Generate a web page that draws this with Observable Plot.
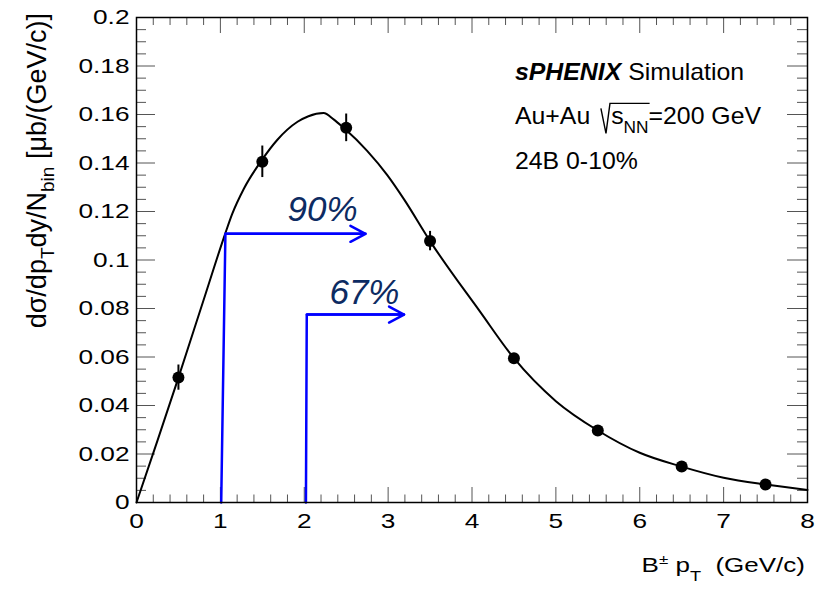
<!DOCTYPE html>
<html>
<head>
<meta charset="utf-8">
<script src="https://cdn.jsdelivr.net/npm/d3@7"></script>
<script src="https://cdn.jsdelivr.net/npm/@observablehq/plot@0.6"></script>
<style>
  body { margin: 0; background: #fff; }
  #chart { width: 825px; height: 589px; }
  #chart svg { display: block; }
</style>
</head>
<body>
<div id="chart"></div>
<script>
// Simulated B± yield per pT bin (bin centres, yields, statistical errors)
const ptBins   = [0.5, 1.5, 2.5, 3.5, 4.5, 5.5, 6.5, 7.5];
const yields   = [0.0515, 0.1405, 0.1545, 0.1078, 0.0595, 0.0297, 0.0148, 0.0074];
const yieldErr = [0.0052, 0.0065, 0.0057, 0.0040, 0.0015, 0.0010, 0.0008, 0.0005];

// Fit function, sampled along pT
const fitPt    = [0, 0.25, 0.5, 0.8, 1.06, 1.14, 1.28, 1.49, 1.68, 1.92, 2.05, 2.23, 2.35, 2.47, 2.75, 2.99, 3.19, 3.5, 4.1, 4.5, 5.0, 5.5, 6.0, 6.5, 7.0, 7.5, 8.0];
const fitYield = [0, 0.0255, 0.0515, 0.0835, 0.1111, 0.1189, 0.1294, 0.1410, 0.1496, 0.1570, 0.1593, 0.1606, 0.1580, 0.1545, 0.1450, 0.1350, 0.1250, 0.1078, 0.0785, 0.0595, 0.0418, 0.0297, 0.0205, 0.0148, 0.0102, 0.0074, 0.0052];

// pT thresholds keeping 90% and 67% of the yield
const cutLabels     = ["90%", "67%"];
const cutPtBase     = [1.01, 2.02];
const cutPtCorner   = [1.06, 2.03];
const cutLevel      = [0.1108, 0.0775];
const cutArrowEnd   = [2.73, 3.19];
const cutLabelPt    = [1.80, 2.30];
const cutLabelLevel = [0.1159, 0.0819];

// Axis ticks
const xTicks = [0, 1, 2, 3, 4, 5, 6, 7, 8];
const yTicks = [0, 0.02, 0.04, 0.06, 0.08, 0.1, 0.12, 0.14, 0.16, 0.18, 0.2];
const xMinor = d3.range(41).filter(i => i % 5 !== 0).map(i => i / 5);
const yMinor = d3.range(41).filter(i => i % 4 !== 0).map(i => i / 200);

const points = ptBins.map((x, i) => ({x, y: yields[i], e: yieldErr[i]}));
const fit = fitPt.map((x, i) => ({x, y: fitYield[i]}));
const cuts = cutLabels.map((label, i) => ({
  label, base: cutPtBase[i], corner: cutPtCorner[i], level: cutLevel[i],
  end: cutArrowEnd[i], lx: cutLabelPt[i], ly: cutLabelLevel[i]
}));
const cutPaths = cuts.flatMap(c => [
  {label: c.label, x: c.base, y: 0},
  {label: c.label, x: c.corner, y: c.level},
  {label: c.label, x: c.end, y: c.level}
]);

const W = 825, H = 589;
const M = {top: 17, right: 18, bottom: 87, left: 136};
const FW = W - M.left - M.right, FH = H - M.top - M.bottom;
const tickColor = "#555";
const blue = "#0000ff";

const chart = Plot.plot({
  width: W, height: H,
  marginTop: M.top, marginRight: M.right, marginBottom: M.bottom, marginLeft: M.left,
  style: {fontFamily: "'Liberation Sans', Arial, Helvetica, sans-serif", background: "#fff", color: "#000"},
  x: {domain: [0, 8]},
  y: {domain: [0, 0.2]},
  marks: [
    // ticks drawn inside the frame on all four sides
    Plot.tickX(xMinor, {x: d => d, insetTop: FH - 7.5, stroke: tickColor}),
    Plot.tickX(xTicks, {x: d => d, insetTop: FH - 15, stroke: tickColor}),
    Plot.tickX(xMinor, {x: d => d, insetBottom: FH - 8, stroke: tickColor}),
    Plot.tickX(xTicks, {x: d => d, insetBottom: FH - 16, stroke: tickColor}),
    Plot.tickY(yMinor, {y: d => d, insetRight: FW - 10, stroke: tickColor}),
    Plot.tickY(yTicks, {y: d => d, insetRight: FW - 19, stroke: tickColor}),
    Plot.tickY(yMinor, {y: d => d, insetLeft: FW - 10, stroke: tickColor}),
    Plot.tickY(yTicks, {y: d => d, insetLeft: FW - 20, stroke: tickColor}),
    Plot.axisX(xTicks, {tickSize: 0, tickPadding: 11, fontSize: 21, label: null, tickFormat: d3.format("~g")}),
    Plot.axisY(yTicks, {tickSize: 0, tickPadding: 7, fontSize: 21, label: null, tickFormat: d3.format("~g")}),
    // fit curve
    Plot.line(fit, {x: "x", y: "y", curve: "monotone-x", stroke: "#000", strokeWidth: 2}),
    // thresholds
    Plot.line(cutPaths, {x: "x", y: "y", z: "label", stroke: blue, strokeWidth: 2.5, strokeLinejoin: "miter"}),
    Plot.arrow(cuts, {x1: "corner", y1: "level", x2: "end", y2: "level", bend: 0,
      headLength: 10.2, headAngle: 56, stroke: blue, strokeWidth: 2.5}),
    Plot.text(cuts, {x: "lx", y: "ly", text: "label", textAnchor: "start", lineAnchor: "bottom",
      fontSize: 35, fontStyle: "italic", fill: "#0d2b62"}),
    // simulated points with error bars
    Plot.ruleX(points, {x: "x", y1: d => d.y - d.e, y2: d => d.y + d.e, stroke: "#000", strokeWidth: 2}),
    Plot.dot(points, {x: "x", y: "y", r: 6, fill: "#000", stroke: null}),
    Plot.frame({stroke: "#000", strokeWidth: 1.5})
  ]
});

document.getElementById("chart").appendChild(chart);
const svg = d3.select(chart);

// widen the tick labels horizontally around their anchor
function widen(selection, k) {
  selection.each(function () {
    const x = this.getAttribute("x");
    let t = this.getAttribute("transform") || "";
    if (x !== null && !isNaN(+x)) {
      t = `${t} translate(${+x},0)`;
      this.removeAttribute("x");
    }
    this.setAttribute("transform", `${t} scale(${k},1)`);
  });
}
widen(svg.selectAll('g[aria-label="x-axis tick label"] text'), 1.25);
widen(svg.selectAll('g[aria-label="y-axis tick label"] text'), 1.25);

const font = "'Liberation Sans', Arial, Helvetica, sans-serif";

// y-axis title
const yt = svg.append("text")
  .attr("transform", "translate(46,13) rotate(-90)")
  .attr("text-anchor", "end")
  .attr("font-family", font)
  .attr("font-size", 27)
  .attr("fill", "#000");
yt.append("tspan").text("dσ/dp");
yt.append("tspan").attr("font-size", 19).attr("dy", 8).text("T");
yt.append("tspan").attr("dy", -8).text("dy/N");
yt.append("tspan").attr("font-size", 19).attr("dy", 8).text("bin");
yt.append("tspan").attr("dy", -8).text(" [μb/(GeV/c)]");

// x-axis title
const xt = svg.append("g")
  .attr("transform", "translate(805,571.7) scale(1.3,1)")
  .append("text")
  .attr("text-anchor", "end")
  .attr("font-family", font)
  .attr("font-size", 20)
  .attr("fill", "#000");
xt.append("tspan").text("B");
xt.append("tspan").attr("font-size", 13).attr("dy", -8).text("±");
xt.append("tspan").attr("dy", 8).text(" p");
xt.append("tspan").attr("font-size", 14).attr("dy", 9).text("T");
xt.append("tspan").attr("dy", -9).text("  (GeV/c)");

// sPHENIX label block
const block = svg.append("g")
  .attr("transform", "translate(515,0) scale(1.08,1)")
  .attr("font-family", font)
  .attr("font-size", 23)
  .attr("text-anchor", "start")
  .attr("fill", "#000");
const l1 = block.append("text").attr("y", 80);
l1.append("tspan").attr("font-weight", "bold").attr("font-style", "italic").text("sPHENIX");
l1.append("tspan").text(" Simulation");

const l2a = block.append("text").attr("y", 124).text("Au+Au ");
const w1 = l2a.node().getComputedTextLength();
const l2b = block.append("text").attr("x", w1 + 13).attr("y", 124);
l2b.append("tspan").text("s");
l2b.append("tspan").attr("font-size", 16).attr("dy", 9).text("NN");
l2b.append("tspan").attr("dy", -9).text("=200 GeV");
const wS = l2b.node().getSubStringLength(0, 3);
block.append("path")
  .attr("fill", "none")
  .attr("stroke", "#000")
  .attr("stroke-width", 1.3)
  .attr("d", `M${w1 + 3.5},${124 - 15.7} L${w1 + 8.2},${124 + 9.3} L${w1 + 11.9},${124 - 20.7} L${w1 + 13 + wS + 1},${124 - 20.7}`);

block.append("text").attr("y", 169).text("24B 0-10%");
</script>
</body>
</html>
